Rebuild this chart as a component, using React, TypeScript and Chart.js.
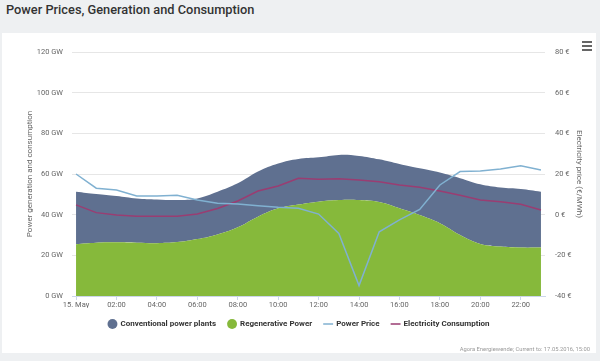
import React, { useEffect, useRef } from 'react';
import { Chart, registerables } from 'chart.js';

Chart.register(...registerables);

// ---- data ----
const hours = [0, 1, 2, 3, 4, 5, 6, 7, 8, 9, 10, 11, 12, 13, 14, 15, 16, 17, 18, 19, 20, 21, 22, 23];
const xTickLabels = ['15. May', '02:00', '04:00', '06:00', '08:00', '10:00', '12:00', '14:00', '16:00', '18:00', '20:00', '22:00'];
const regenerative = [25.5, 26.2, 26.4, 26.2, 26.0, 26.5, 28.0, 30.3, 33.8, 39.0, 43.1, 45.0, 46.4, 47.2, 47.2, 46.2, 43.1, 39.8, 35.8, 30.0, 25.6, 24.3, 23.8, 23.8];
const conventional = [25.8, 24.0, 22.8, 21.8, 21.5, 20.7, 20.0, 21.0, 21.6, 22.2, 22.1, 22.4, 21.8, 22.2, 21.7, 21.0, 21.8, 23.0, 24.9, 27.9, 29.3, 29.0, 28.8, 27.5];
const powerPrice = [20.0, 13.0, 12.1, 9.2, 9.2, 9.5, 7.2, 5.6, 5.3, 4.4, 3.6, 3.1, 0.3, -9.2, -34.9, -8.4, -2.6, 2.6, 14.6, 21.2, 21.5, 22.5, 24.1, 22.0];
const consumption = [44.8, 41.0, 39.8, 39.2, 39.2, 39.2, 40.3, 43.0, 46.7, 51.6, 54.1, 57.9, 57.4, 57.7, 57.0, 56.2, 54.6, 53.5, 51.6, 49.5, 47.2, 46.4, 45.1, 42.3];
const xTickHours = [0, 2, 4, 6, 8, 10, 12, 14, 16, 18, 20, 22];

const FONT = 'Roboto, "Open Sans", sans-serif';
const legendRank = [1, 0, 2, 3];

const legendHeightPlugin = {
  id: 'legendHeight',
  beforeUpdate(chart: any) {
    const lg = chart.legend;
    if (lg && !lg._patched) {
      const orig = lg.fit;
      lg.fit = function () {
        orig.call(this);
        this.height = 30;
      };
      lg._patched = true;
    }
  },
};

export default function App() {
  const ref = useRef<HTMLCanvasElement>(null);

  useEffect(() => {
    document.body.style.margin = '0';
    const chart = new Chart(ref.current!, {
      type: 'line',
      data: {
        labels: hours,
        datasets: [
          {
            label: 'Regenerative Power',
            data: regenerative,
            backgroundColor: '#86b93b',
            borderColor: '#86b93b',
            borderWidth: 0,
            fill: 'origin',
            tension: 0.4,
            pointRadius: 0,
            pointStyle: 'circle',
            stack: 'gen',
            order: 2,
            yAxisID: 'y',
          },
          {
            label: 'Conventional power plants',
            data: conventional,
            backgroundColor: '#5f7090',
            borderColor: '#5f7090',
            borderWidth: 0,
            fill: '-1',
            tension: 0.4,
            pointRadius: 0,
            pointStyle: 'circle',
            stack: 'gen',
            order: 2,
            yAxisID: 'y',
          },
          {
            label: 'Power Price',
            data: powerPrice,
            borderColor: '#80b1d1',
            backgroundColor: '#80b1d1',
            borderWidth: 1.5,
            fill: false,
            tension: 0,
            pointRadius: 0,
            pointStyle: 'line',
            order: 0,
            yAxisID: 'y1',
          },
          {
            label: 'Electricity Consumption',
            data: consumption,
            borderColor: '#9a3d72',
            backgroundColor: '#9a3d72',
            borderWidth: 1.5,
            fill: false,
            tension: 0,
            pointRadius: 0,
            pointStyle: 'line',
            stack: 'cons',
            order: 1,
            yAxisID: 'y',
          },
        ],
      },
      plugins: [legendHeightPlugin],
      options: {
        responsive: false,
        animation: false,
        layout: { padding: { top: 19, bottom: 15, left: 0, right: 0 } },
        plugins: {
          tooltip: { enabled: false },
          legend: {
            position: 'bottom',
            labels: {
              usePointStyle: true,
              boxHeight: 7,
              padding: 12,
              color: '#333',
              font: { family: FONT, size: 8, weight: 'bold' },
              sort: (a: any, b: any) => legendRank[a.datasetIndex] - legendRank[b.datasetIndex],
            },
          },
        },
        scales: {
          x: {
            type: 'linear',
            min: -0.2,
            max: 23.2,
            afterBuildTicks: (axis: any) => {
              axis.ticks = xTickHours.map((v) => ({ value: v }));
            },
            afterFit: (s: any) => {
              s.height = 12;
            },
            ticks: {
              autoSkip: false,
              maxRotation: 0,
              padding: 1,
              color: '#666',
              font: { family: FONT, size: 7.5 },
              callback: (v: any) => xTickLabels[xTickHours.indexOf(Number(v))],
            },
            grid: { display: true, drawOnChartArea: false, drawTicks: true, tickLength: 4, color: '#ccd6eb' },
            border: { display: true, color: '#ccd6eb' },
          },
          y: {
            type: 'linear',
            position: 'left',
            stacked: true,
            min: 0,
            max: 120,
            afterFit: (s: any) => {
              s.width = 70;
            },
            ticks: {
              stepSize: 20,
              padding: 9,
              color: '#666',
              font: { family: FONT, size: 7.5 },
              callback: (v: any) => v + ' GW',
            },
            grid: { color: '#e6e6e6', drawTicks: false },
            border: { display: false },
            title: {
              display: true,
              text: 'Power generation and consumption',
              color: '#666',
              font: { family: FONT, size: 8 },
              padding: { top: 23, bottom: 0 },
            },
          },
          y1: {
            type: 'linear',
            position: 'right',
            min: -40,
            max: 80,
            afterFit: (s: any) => {
              s.width = 51;
            },
            ticks: {
              stepSize: 20,
              padding: 10,
              color: '#666',
              font: { family: FONT, size: 7.5 },
              callback: (v: any) => v + ' €',
            },
            grid: { display: false, drawTicks: false },
            border: { display: false },
            title: {
              display: true,
              text: 'Electricity price (€/MWh)',
              color: '#666',
              font: { family: FONT, size: 8 },
              padding: { top: 12, bottom: 0 },
            },
          },
        },
      },
    } as any);
    return () => chart.destroy();
  }, []);

  const bar: React.CSSProperties = { width: 10, height: 2, background: '#666', marginBottom: 2 };

  return (
    <div style={{ position: 'absolute', left: 0, top: 0, width: 600, height: 361, background: '#eef0f2', overflow: 'hidden', fontFamily: FONT }}>
      <div style={{ position: 'absolute', left: 6, top: 2, fontSize: 12.8, fontWeight: 500, color: '#333', whiteSpace: 'nowrap' }}>
        Power Prices, Generation and Consumption
      </div>
      <div style={{ position: 'absolute', left: 2, top: 33, width: 594, height: 320, background: '#fff' }}>
        <canvas ref={ref} width={594} height={320} style={{ display: 'block' }} />
        <div style={{ position: 'absolute', left: 580, top: 8 }}>
          <div style={bar} />
          <div style={bar} />
          <div style={bar} />
        </div>
        <div style={{ position: 'absolute', right: 6, top: 313, fontSize: 5.8, lineHeight: '6px', color: '#999', whiteSpace: 'nowrap' }}>
          Agora Energiewende; Current to: 17.05.2016, 15:00
        </div>
      </div>
    </div>
  );
}
